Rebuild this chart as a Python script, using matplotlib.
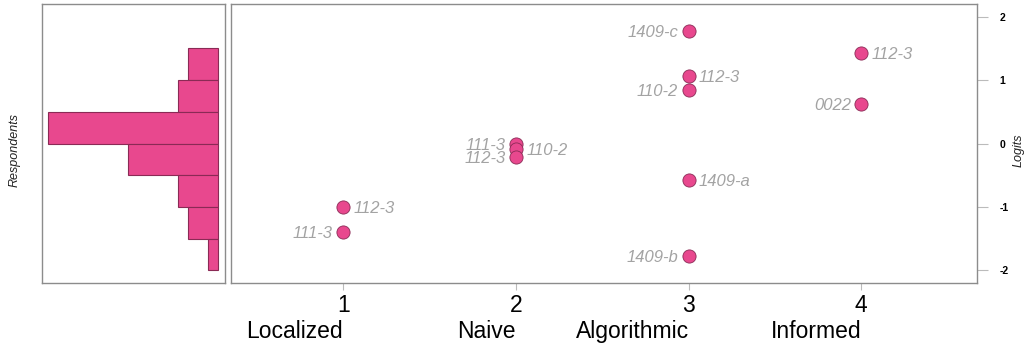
import matplotlib.pyplot as plt
import matplotlib.transforms as mtransforms

# respondent counts per half-logit bin (top to bottom)
bin_edges = [1.5, 1.0, 0.5, 0.0, -0.5, -1.0, -1.5, -2.0]
bin_counts = [3, 4, 17, 9, 4, 3, 1]

# item difficulties by strategy level
levels = [1, 1, 2, 2, 2, 3, 3, 3, 3, 3, 4, 4]
logits = [-1.0, -1.39, 0.0, -0.08, -0.21, 1.78, 1.07, 0.84, -0.58, -1.78, 1.42, 0.62]
items = ['112-3', '111-3', '111-3', '110-2', '112-3', '1409-c', '112-3', '110-2',
         '1409-a', '1409-b', '112-3', '0022']
label_side = ['r', 'l', 'l', 'r', 'l', 'l', 'r', 'l', 'r', 'l', 'r', 'l']

level_ticks = [1, 2, 3, 4]
level_names = ['Localized', 'Naive', 'Algorithmic', 'Informed']
logit_ticks = [-2, -1, 0, 1, 2]

pink = '#E8488E'
edge = '#8a2a55'
frame = '#8c8c8c'
grey_txt = '#a3a3a3'

plt.rcParams['font.family'] = ['Liberation Sans', 'DejaVu Sans']

W, H = 1029, 349
fig = plt.figure(figsize=(W / 100, H / 100), dpi=100)


def px_axes(left, right, top, bottom):
    return fig.add_axes([left / W, (H - bottom) / H, (right - left) / W, (bottom - top) / H])


ylim = (-2.2, 2.2)

# histogram of respondents
axh = px_axes(42, 225, 4, 283)
for i, c in enumerate(bin_counts):
    lo, hi = bin_edges[i + 1], bin_edges[i]
    axh.barh(lo, c, height=hi - lo, align='edge', color=pink, edgecolor=edge, linewidth=0.8)
axh.set_xlim(17.6, -0.7)
axh.set_ylim(*ylim)
axh.set_xticks([])
axh.set_yticks([])
for s in axh.spines.values():
    s.set_color(frame)
    s.set_linewidth(1.0)
fig.text(15 / W, 1 - 150 / H, 'Respondents', rotation=90, style='italic',
         fontsize=9, ha='center', va='center', color='#222222')

# item map
ax = px_axes(231, 977, 4, 283)
ax.scatter(levels, logits, s=90, color=pink, edgecolor=edge, linewidth=0.6, zorder=3)
for x, y, name, side in zip(levels, logits, items, label_side):
    off = 7.5 if side == 'r' else -7.5
    ax.annotate(name, (x, y), xytext=(off, 0), textcoords='offset points',
                ha='left' if side == 'r' else 'right', va='center_baseline',
                style='italic', fontsize=12, color=grey_txt)
ax.set_xlim(0.35, 4.67)
ax.set_ylim(*ylim)
for s in ax.spines.values():
    s.set_color(frame)
    s.set_linewidth(1.0)

ax.set_xticks(level_ticks)
ax.set_xticklabels([str(t) for t in level_ticks], fontsize=16.5)
ax.tick_params(axis='x', direction='out', length=5, color='#bbbbbb', pad=3)
trans = mtransforms.blended_transform_factory(ax.transData, ax.transAxes)
for t, name in zip(level_ticks, level_names):
    ax.text(t, -0.175, name, transform=trans, ha='right', va='center', fontsize=16.5)

ax.yaxis.tick_right()
ax.set_yticks(logit_ticks)
ax.set_yticklabels([str(t) for t in logit_ticks], fontsize=7.5, fontweight='bold')
ax.tick_params(axis='y', direction='out', length=8, color='#bbbbbb', pad=8)
fig.text(1019 / W, 1 - 150 / H, 'Logits', rotation=90, style='italic',
         fontsize=9, ha='center', va='center', color='#222222')

fig.savefig('out.png', dpi=100)
